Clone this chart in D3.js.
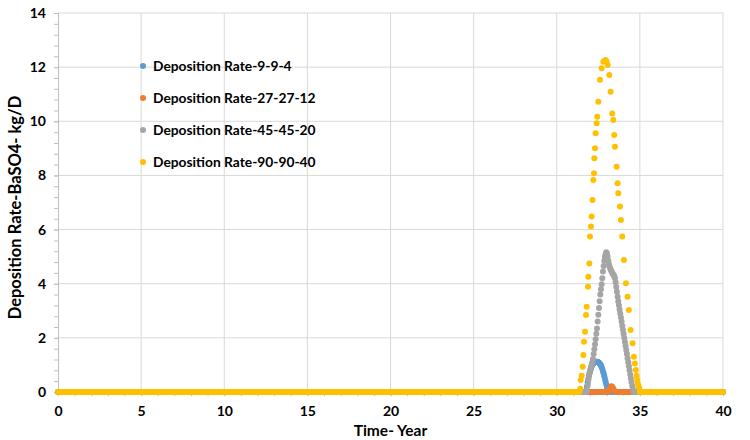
<!DOCTYPE html>
<html>
<head>
<meta charset="utf-8">
<script src="https://cdn.jsdelivr.net/npm/d3@7"></script>
<style>
    body { margin: 0; background: #fff; }
    text { font-family: Lato, "Open Sans", sans-serif; font-weight: bold; fill: #000; }
</style>
</head>
<body>
<div id="chart"></div>
<script>
// ---- data ----
// time step of the flat (zero) stretches
let zeroTimes = d3.range(0, 40.0001, 0.05);

// elevated part of each run: [time, rate]
let peak_9_9_4 = [
    [31.78, 0.05], [31.82, 0.2], [31.86, 0.35], [31.9, 0.48], [31.94, 0.6], [31.98, 0.7],
    [32.02, 0.8], [32.06, 0.88], [32.1, 0.95], [32.14, 1.0], [32.18, 1.04], [32.22, 1.07],
    [32.26, 1.1], [32.3, 1.11], [32.34, 1.12], [32.38, 1.12], [32.42, 1.12], [32.46, 1.11],
    [32.5, 1.1], [32.54, 1.08], [32.58, 1.05], [32.62, 1.02], [32.66, 0.98], [32.7, 0.92],
    [32.74, 0.85], [32.78, 0.77], [32.82, 0.68], [32.86, 0.58], [32.9, 0.48], [32.94, 0.38],
    [32.98, 0.28], [33.02, 0.19], [33.06, 0.11], [33.1, 0.05], [33.14, 0.01]
];
let peak_27_27_12 = [
    [33.1, 0.03], [33.15, 0.08], [33.2, 0.14], [33.25, 0.19], [33.3, 0.21],
    [33.35, 0.18], [33.4, 0.12], [33.45, 0.06], [33.5, 0.02]
];
let peak_45_45_20 = [
    [31.82, 0.05], [31.86, 0.25], [31.9, 0.45], [31.94, 0.6], [31.98, 0.72], [32.02, 0.82],
    [32.06, 0.92], [32.1, 1.0], [32.14, 1.1], [32.18, 1.22], [32.22, 1.4], [32.26, 1.58],
    [32.3, 1.76], [32.34, 1.95], [32.38, 2.15], [32.42, 2.35], [32.46, 2.6], [32.5, 2.85],
    [32.54, 3.1], [32.58, 3.35], [32.62, 3.6], [32.66, 3.8], [32.7, 3.98], [32.74, 4.2],
    [32.78, 4.45], [32.82, 4.65], [32.86, 4.85], [32.9, 5.0], [32.94, 5.1], [32.98, 5.16],
    [33.02, 5.12], [33.06, 5.0], [33.1, 4.85], [33.14, 4.72], [33.18, 4.62], [33.22, 4.55],
    [33.26, 4.5], [33.3, 4.45], [33.34, 4.4], [33.38, 4.36], [33.42, 4.32], [33.46, 4.28],
    [33.5, 4.2], [33.54, 4.05], [33.58, 3.88], [33.62, 3.7], [33.66, 3.52], [33.7, 3.35],
    [33.74, 3.2], [33.78, 3.05], [33.82, 2.9], [33.86, 2.75], [33.9, 2.6], [33.94, 2.45],
    [33.98, 2.3], [34.02, 2.15], [34.06, 2.0], [34.1, 1.85], [34.14, 1.7], [34.18, 1.55],
    [34.22, 1.4], [34.26, 1.25], [34.3, 1.1], [34.34, 0.95], [34.38, 0.8], [34.42, 0.65],
    [34.46, 0.5], [34.5, 0.36], [34.54, 0.22], [34.58, 0.1], [34.62, 0.02]
];
let peak_90_90_40 = [
    [31.42, 0.12], [31.44, 0.44], [31.5, 0.6], [31.56, 0.93], [31.6, 1.37], [31.64, 1.86],
    [31.7, 2.23], [31.76, 2.84], [31.8, 3.15], [31.88, 3.89], [31.9, 4.26], [31.96, 4.75],
    [32.0, 5.74], [32.06, 6.11], [32.1, 6.48], [32.15, 7.09], [32.2, 7.83], [32.24, 8.08],
    [32.26, 8.63], [32.3, 9.0], [32.34, 9.56], [32.4, 9.93], [32.44, 10.17], [32.5, 10.72],
    [32.6, 11.53], [32.7, 11.96], [32.8, 12.2], [32.88, 12.24], [32.94, 12.26], [33.0, 12.2],
    [33.06, 12.08], [33.16, 11.71], [33.24, 11.09], [33.34, 10.29], [33.4, 10.05], [33.46, 9.49],
    [33.5, 9.06], [33.6, 8.32], [33.66, 7.71], [33.7, 7.34], [33.8, 6.85], [33.86, 6.35],
    [33.94, 5.74], [34.04, 4.88], [34.16, 4.02], [34.26, 3.52], [34.34, 3.03], [34.44, 2.29],
    [34.56, 1.8], [34.64, 1.3], [34.7, 1.05], [34.76, 0.81], [34.8, 0.6], [34.84, 0.44],
    [34.88, 0.3], [34.92, 0.2], [34.96, 0.15]
];

let seriesNames = ["Deposition Rate-9-9-4", "Deposition Rate-27-27-12",
                   "Deposition Rate-45-45-20", "Deposition Rate-90-90-40"];
let seriesColors = ["#5b9bd5", "#ed7d31", "#a5a5a5", "#ffc000"];
let peaks = [peak_9_9_4, peak_27_27_12, peak_45_45_20, peak_90_90_40];

let xTicks = [0, 5, 10, 15, 20, 25, 30, 35, 40];
let yTicks = [0, 2, 4, 6, 8, 10, 12, 14];

// zero stretch + elevated part for each run
let series = peaks.map((p, i) => {
    let start = p[0][0], end = p[p.length - 1][0];
    let flat = zeroTimes.filter(t => t < start - 0.02 || t > end + 0.02).map(t => [t, 0]);
    return { name: seriesNames[i], color: seriesColors[i], points: flat.concat(p) };
});

// ---- chart ----
let margin = {top: 13, right: 27, bottom: 48, left: 58};
let width = 750 - margin.left - margin.right;
let height = 440 - margin.top - margin.bottom;

let svg = d3.select("#chart").append("svg")
    .attr("width", 750)
    .attr("height", 440)
    .append("g")
    .attr("transform", `translate(${margin.left}, ${margin.top})`);

let x = d3.scaleLinear().domain([0, 40]).range([0, width]);
let y = d3.scaleLinear().domain([0, 14]).range([height, 0]);

// gridlines
svg.append("g")
    .selectAll("line")
    .data(yTicks.slice(1))
    .join("line")
    .attr("x1", 0).attr("x2", width)
    .attr("y1", d => y(d)).attr("y2", d => y(d))
    .attr("stroke", "#d9d9d9");

svg.append("g")
    .selectAll("line")
    .data(xTicks.slice(1))
    .join("line")
    .attr("y1", 0).attr("y2", height)
    .attr("x1", d => x(d)).attr("x2", d => x(d))
    .attr("stroke", "#d9d9d9");

// axes
let yAxis = svg.append("g")
    .call(d3.axisLeft(y).tickValues(yTicks).tickSize(4).tickPadding(8));
let yMinor = svg.append("g")
    .call(d3.axisLeft(y).tickValues(d3.range(0, 14.01, 0.4)).tickSize(4).tickFormat(""));
let xAxis = svg.append("g")
    .attr("transform", `translate(0, ${height})`)
    .call(d3.axisBottom(x).tickValues(xTicks).tickSize(4).tickPadding(10));
let xMinor = svg.append("g")
    .attr("transform", `translate(0, ${height})`)
    .call(d3.axisBottom(x).tickValues(d3.range(0, 40.01, 1)).tickSize(4).tickFormat(""));

[yAxis, yMinor, xAxis, xMinor].forEach(g => {
    g.select(".domain").attr("stroke", "#bfbfbf");
    g.selectAll(".tick line").attr("stroke", "#bfbfbf");
});
yAxis.selectAll("text").attr("font-size", 14).attr("font-family", null);
xAxis.selectAll("text").attr("font-size", 14).attr("font-family", null);

// points, first run drawn first so later runs sit on top
series.forEach(s => {
    svg.append("g")
        .selectAll("circle")
        .data(s.points)
        .join("circle")
        .attr("cx", d => x(d[0]))
        .attr("cy", d => y(d[1]))
        .attr("r", 3)
        .attr("fill", s.color);
});

// axis titles
svg.append("text")
    .attr("x", width / 2)
    .attr("y", height + 44)
    .attr("text-anchor", "middle")
    .attr("font-size", 15.5)
    .text("Time- Year");

svg.append("text")
    .attr("transform", `translate(-37, ${height / 2 + 5}) rotate(-90)`)
    .attr("text-anchor", "middle")
    .attr("font-size", 16.5)
    .text("Deposition Rate-BaSO4- kg/D");

// legend
let legend = svg.append("g")
    .attr("transform", "translate(85, 53)");

let rows = legend.selectAll("g")
    .data(series)
    .join("g")
    .attr("transform", (d, i) => `translate(0, ${i * 32})`);

rows.append("circle")
    .attr("r", 3)
    .attr("fill", d => d.color);

rows.append("text")
    .attr("x", 10)
    .attr("dy", "0.35em")
    .attr("font-size", 13.8)
    .text(d => d.name);
</script>
</body>
</html>
